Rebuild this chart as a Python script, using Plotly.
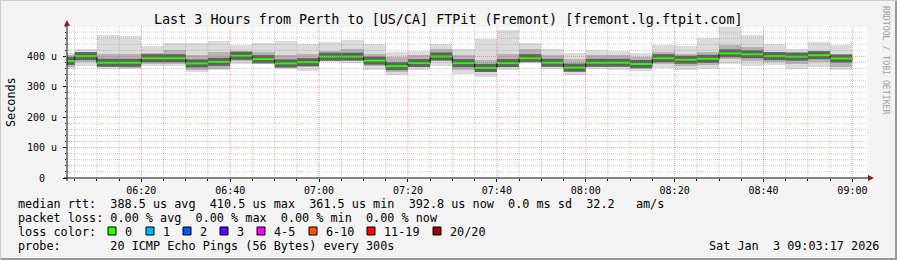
import plotly.graph_objects as go
import pandas as pd

# ---------------- data ----------------
day = "2026-01-03"
bin_end = ["06:05", "06:10", "06:15", "06:20", "06:25", "06:30", "06:35", "06:40",
           "06:45", "06:50", "06:55", "07:00", "07:05", "07:10", "07:15", "07:20",
           "07:25", "07:30", "07:35", "07:40", "07:45", "07:50", "07:55", "08:00",
           "08:05", "08:10", "08:15", "08:20", "08:25", "08:30", "08:35", "08:40",
           "08:45", "08:50", "08:55", "09:00"]
# median RTT per 5-minute step (microseconds)
rtt_median = [385, 401, 379, 379, 394, 394, 377, 382, 402, 391, 377, 381,
              399, 399, 386, 368, 378, 400, 378, 362, 378, 394, 379, 363,
              379, 379, 375, 394, 389, 392, 410, 407, 401, 399, 404, 393]
# fastest / slowest of the 20 pings
rtt_min = [358, 370, 359, 359, 367, 368, 350, 354, 374, 374, 359, 353,
           380, 379, 355, 340, 356, 370, 343, 333, 354, 377, 358, 340,
           357, 356, 352, 361, 354, 359, 376, 370, 373, 359, 364, 354]
rtt_max = [412, 423, 471, 467, 433, 444, 444, 451, 439, 444, 450, 440,
           447, 454, 440, 415, 417, 440, 425, 456, 488, 445, 425, 410,
           420, 419, 412, 439, 434, 459, 496, 469, 440, 426, 447, 439]
# inner (darker) part of the smoke
rtt_lo = [365, 381, 365, 362, 376, 376, 354, 359, 384, 376, 362, 365,
          384, 387, 370, 348, 365, 384, 354, 348, 365, 384, 365, 348,
          365, 365, 359, 376, 370, 372, 392, 384, 381, 376, 381, 365]
rtt_hi = [403, 414, 408, 408, 412, 420, 403, 414, 419, 414, 403, 408,
          419, 425, 408, 398, 403, 423, 403, 387, 408, 423, 403, 392,
          403, 403, 398, 414, 408, 414, 436, 430, 416, 414, 419, 408]

y_tick_vals = [0, 100, 200, 300, 400]
y_tick_text = ["0\u00a0\u00a0", "100\u00a0u", "200\u00a0u", "300\u00a0u", "400\u00a0u"]

loss_labels = ["0", "1", "2", "3", "4-5", "6-10", "11-19", "20/20"]
loss_colors = ["#26ff00", "#00b8ff", "#0059ff", "#5e00ff", "#ff00ff", "#ff5500", "#ff0000", "#a10000"]

title = "Last 3 Hours from Perth to [US/CA] FTPit (Fremont) [fremont.lg.ftpit.com]"
legend_lines = [
    "median rtt:  388.5 us avg  410.5 us max  361.5 us min  392.8 us now  0.0 ms sd  32.2   am/s",
    "packet loss: 0.00 % avg  0.00 % max  0.00 % min  0.00 % now",
    "loss color:",
    "probe:       20 ICMP Echo Pings (56 Bytes) every 300s",
]
stamp = "Sat Jan  3 09:03:17 2026"

# ---------------- figure ----------------
W, H = 897, 260
L, R, T, B = 67, 30, 26, 82
PW, PH = W - L - R, H - T - B
MONO = "DejaVu Sans Mono"


def px(x):
    return (x - L) / PW


def py(y):
    return (H - B - y) / PH


def nb(s):
    return s.replace(" ", "\u00a0")


ends = pd.to_datetime([f"{day} {t}" for t in bin_end])
step = pd.Timedelta(minutes=5)
t_start = pd.Timestamp(f"{day} 06:03:17")
t_end = pd.Timestamp(f"{day} 09:03:17")

fig = go.Figure()

# smoke: outer (min..max)
fig.add_trace(go.Bar(x=ends, base=rtt_min, y=[a - b for a, b in zip(rtt_max, rtt_min)],
                     width=300000, offset=-300000, marker_color="#dcdcdc",
                     marker_line_width=0, hoverinfo="skip"))
# smoke: inner
fig.add_trace(go.Bar(x=ends, base=rtt_lo, y=[a - b for a, b in zip(rtt_hi, rtt_lo)],
                     width=300000, offset=-300000, marker_color="#b4b4b4",
                     marker_line_width=0, hoverinfo="skip"))

# segments for median
seg_x, seg_y = [], []
for e, m in zip(ends, rtt_median):
    seg_x += [e - step, e, None]
    seg_y += [m, m, None]

fig.add_trace(go.Scatter(x=seg_x, y=seg_y, mode="lines",
                         line=dict(color="rgba(70,70,70,0.75)", width=8), hoverinfo="skip"))
fig.add_trace(go.Scatter(x=list(ends), y=rtt_median, mode="lines", line_shape="vh",
                         line=dict(color="#000000", width=1), hoverinfo="skip"))
fig.add_trace(go.Scatter(x=seg_x, y=seg_y, mode="lines",
                         line=dict(color="#26ff00", width=2), hoverinfo="skip"))

shapes = []
# grid (drawn over the smoke as rrdtool does)
minor_col = "rgba(130,130,130,0.45)"
major_col = "rgba(235,60,60,0.5)"
t = pd.Timestamp(f"{day} 06:05")
while t <= t_end:
    major = (t.minute % 20 == 0)
    shapes.append(dict(type="line", xref="x", yref="paper", x0=t, x1=t, y0=0, y1=1,
                       line=dict(color=major_col if major else minor_col, width=1, dash="1px,1px"),
                       layer="above"))
    t += step
for v in range(20, 501, 20):
    major = (v % 100 == 0 and v < 500)
    shapes.append(dict(type="line", xref="paper", yref="y", x0=0, x1=1, y0=v, y1=v,
                       line=dict(color=major_col if major else minor_col, width=1, dash="1px,1px"),
                       layer="above"))

# arrows
arrow_col = "#8c1c1c"
shapes.append(dict(type="path", xref="paper", yref="paper",
                   path=f"M {px(868)},{py(175)} L {px(874)},{py(178)} L {px(868)},{py(181)} Z",
                   fillcolor=arrow_col, line=dict(width=0), layer="above"))
shapes.append(dict(type="path", xref="paper", yref="paper",
                   path=f"M {px(64)},{py(26)} L {px(67)},{py(20)} L {px(70)},{py(26)} Z",
                   fillcolor=arrow_col, line=dict(width=0), layer="above"))
# axis lines
shapes.append(dict(type="line", xref="paper", yref="paper", x0=px(64), x1=px(868), y0=0, y1=0,
                   line=dict(color="#101010", width=1), layer="above"))
shapes.append(dict(type="line", xref="paper", yref="paper", x0=0, x1=0, y0=py(181), y1=py(26),
                   line=dict(color="#101010", width=1), layer="above"))
# 3d frame of the picture
shapes.append(dict(type="line", xref="paper", yref="paper", x0=px(0), x1=px(W), y0=py(H - 1), y1=py(H - 1),
                   line=dict(color="#999999", width=2)))
shapes.append(dict(type="line", xref="paper", yref="paper", x0=px(W - 1), x1=px(W - 1), y0=py(0), y1=py(H),
                   line=dict(color="#999999", width=2)))
shapes.append(dict(type="line", xref="paper", yref="paper", x0=px(0), x1=px(W), y0=py(0.5), y1=py(0.5),
                   line=dict(color="#cbcbcb", width=1)))
shapes.append(dict(type="line", xref="paper", yref="paper", x0=px(0.5), x1=px(0.5), y0=py(0), y1=py(H),
                   line=dict(color="#cbcbcb", width=1)))

# legend colour boxes
box_x = [108, 146, 183, 220, 257, 309, 367, 433]
lab_x = [123, 161, 198, 235, 272, 324, 382, 448]
for bx, c in zip(box_x, loss_colors):
    shapes.append(dict(type="rect", xref="paper", yref="paper",
                       x0=px(bx), x1=px(bx + 8), y0=py(235), y1=py(227),
                       fillcolor=c, line=dict(color="#000000", width=1)))

ann = []
ann.append(dict(text=nb(title), x=px(448.5), y=py(19), xref="paper", yref="paper",
                xanchor="center", yanchor="middle", showarrow=False,
                font=dict(family=MONO, size=13.4, color="#000000")))
ann.append(dict(text="Seconds", x=px(11), y=py(102), xref="paper", yref="paper",
                xanchor="center", yanchor="middle", showarrow=False, textangle=-90,
                font=dict(family=MONO, size=11.8, color="#000000")))
ann.append(dict(text=nb("RRDTOOL / TOBI OETIKER"), x=px(886), y=py(60), xref="paper", yref="paper",
                xanchor="center", yanchor="middle", showarrow=False, textangle=90,
                font=dict(family=MONO, size=8.2, color="#a0a0a0")))
for i, line in enumerate(legend_lines):
    ann.append(dict(text=nb(line), x=px(16), y=py(204 + 14 * i), xref="paper", yref="paper",
                    xanchor="left", yanchor="middle", showarrow=False,
                    font=dict(family=MONO, size=11.8, color="#000000")))
for lx, lab in zip(lab_x, loss_labels):
    ann.append(dict(text=lab, x=px(lx), y=py(232), xref="paper", yref="paper",
                    xanchor="left", yanchor="middle", showarrow=False,
                    font=dict(family=MONO, size=11.8, color="#000000")))
ann.append(dict(text=nb(stamp), x=px(881), y=py(246), xref="paper", yref="paper",
                xanchor="right", yanchor="middle", showarrow=False,
                font=dict(family=MONO, size=11.8, color="#000000")))

fig.update_layout(
    width=W, height=H, margin=dict(l=L, r=R, t=T, b=B, pad=0),
    paper_bgcolor="#f3f3f3", plot_bgcolor="#ffffff",
    showlegend=False, barmode="overlay", bargap=0,
    shapes=shapes, annotations=ann,
    xaxis=dict(type="date", range=[t_start, t_end], showgrid=False, zeroline=False,
               tickformat="%H:%M", dtick=1200000, tick0=f"{day} 06:00",
               ticks="outside", ticklen=3, tickcolor="#101010", showline=False,
               tickfont=dict(family=MONO, size=10, color="#000000"),
               minor=dict(dtick=300000, ticks="outside", ticklen=2, tickcolor="#101010", showgrid=False)),
    yaxis=dict(range=[0, 500], showgrid=False, zeroline=False, showline=False,
               tickvals=y_tick_vals, ticktext=y_tick_text,
               ticks="outside", ticklen=3, tickcolor="#101010", ticklabelstandoff=4,
               tickfont=dict(family=MONO, size=10, color="#000000"),
               minor=dict(dtick=20, ticks="outside", ticklen=1, tickcolor="#101010", showgrid=False)),
)

fig.write_html("out.html", config={"displayModeBar": False})
